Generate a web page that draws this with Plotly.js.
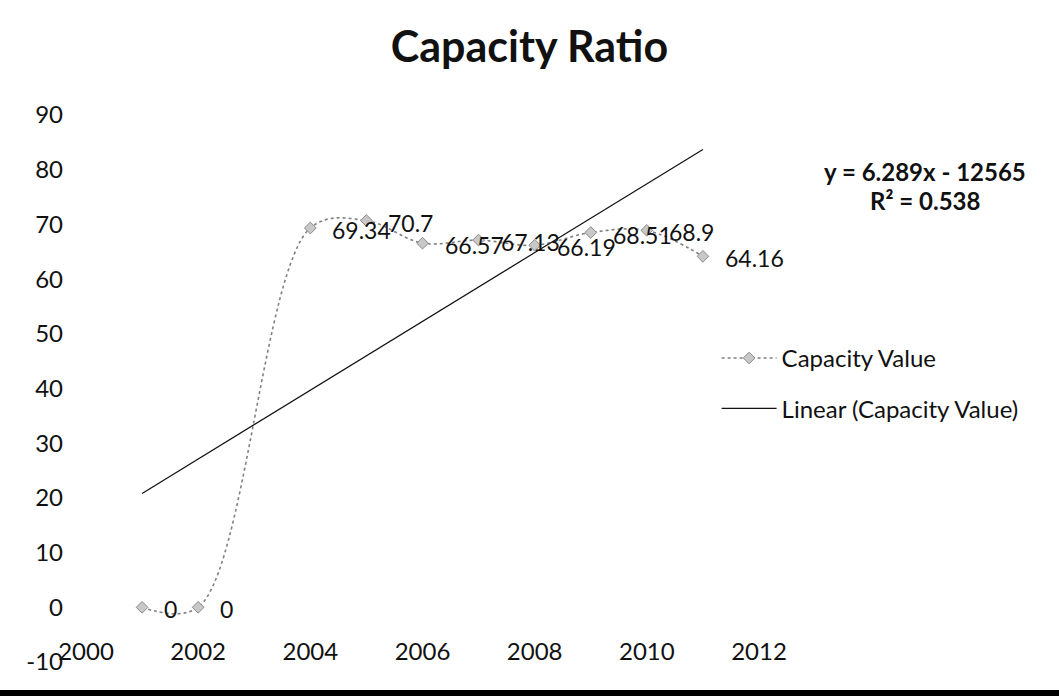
<!DOCTYPE html>
<html>
<head>
<meta charset="utf-8">
<script src="https://cdn.plot.ly/plotly-3.0.1.min.js"></script>
<style>
  html, body { margin: 0; padding: 0; background: #fff; }
  #chart { width: 1059px; height: 690px; }
  #base { width: 1059px; height: 6px; background: #000; }
</style>
</head>
<body>
<div id="chart"></div>
<div id="base"></div>
<script>
// Capacity ratio by year (2003 has no reading)
const years = [2001, 2002, 2003, 2004, 2005, 2006, 2007, 2008, 2009, 2010, 2011];
const capacityValue = [0, 0, null, 69.34, 70.7, 66.57, 67.13, 66.19, 68.51, 68.9, 64.16];
const yTickValues = [-10, 0, 10, 20, 30, 40, 50, 60, 70, 80, 90];
const yTickLabels = ['-10', '0', '10', '20', '30', '40', '50', '60', '70', '80', '90'];
const seriesName = 'Capacity Value';
const trendName = 'Linear (Capacity Value)';
const trendEquation = 'y = 6.289x - 12565';
const trendR2 = 'R² = 0.538';

// Least-squares fit over the years that have a value
const pts = years.map((x, i) => [x, capacityValue[i]]).filter(p => p[1] !== null);
const n = pts.length;
const mx = pts.reduce((s, p) => s + p[0], 0) / n;
const my = pts.reduce((s, p) => s + p[1], 0) / n;
const sxy = pts.reduce((s, p) => s + (p[0] - mx) * (p[1] - my), 0);
const sxx = pts.reduce((s, p) => s + (p[0] - mx) ** 2, 0);
const slope = sxy / sxx;
const intercept = my - slope * mx;
const xMin = Math.min(...pts.map(p => p[0]));
const xMax = Math.max(...pts.map(p => p[0]));
const trendX = [xMin, xMax];
const trendY = trendX.map(x => slope * x + intercept);

const FONT = 'Lato, "Open Sans", sans-serif';

const series = {
  x: years, y: capacityValue, name: seriesName,
  type: 'scatter', mode: 'lines+markers',
  connectgaps: true,
  line: { shape: 'spline', smoothing: 1, color: '#808080', width: 1.6, dash: 'dot' },
  marker: { symbol: 'diamond', size: 9, color: '#c8c8c8', line: { color: '#8a8a8a', width: 1 } },
  legend: 'legend', hoverinfo: 'x+y'
};

const trend = {
  x: trendX, y: trendY, name: trendName,
  type: 'scatter', mode: 'lines',
  line: { color: '#111', width: 1.2 },
  legend: 'legend2', hoverinfo: 'skip'
};

// Value labels to the right of each point
const labels = years.map((x, i) => capacityValue[i] === null ? null : ({
  x: x, y: capacityValue[i], xref: 'x', yref: 'y',
  text: String(capacityValue[i]), showarrow: false,
  xanchor: 'left', yanchor: 'middle', xshift: 20, yshift: -2,
  font: { family: FONT, size: 23, color: '#111' }
})).filter(a => a);

const eq = [
  { text: trendEquation, x: 1.2467, y: 0.896 },
  { text: trendR2, x: 1.2467, y: 0.843 }
].map(a => Object.assign(a, {
  xref: 'paper', yref: 'paper', showarrow: false,
  xanchor: 'center', yanchor: 'middle',
  font: { family: FONT, size: 24, color: '#111', weight: 'bold' }
}));

const layout = {
  width: 1059, height: 690,
  margin: { l: 86, r: 300, t: 115, b: 28 },
  paper_bgcolor: '#fff', plot_bgcolor: '#fff',
  title: {
    text: 'Capacity Ratio',
    font: { family: FONT, size: 43, color: '#111', weight: 'bold' },
    x: 0.5, xref: 'container', xanchor: 'center',
    y: 1 - 47 / 690, yref: 'container', yanchor: 'middle'
  },
  xaxis: {
    range: [2000, 2012], tick0: 2000, dtick: 2,
    showgrid: false, zeroline: false, showline: false,
    ticks: '', ticklabelstandoff: -27,
    tickfont: { family: FONT, size: 24, color: '#111' }
  },
  yaxis: {
    range: [-10, 90], tickmode: 'array',
    tickvals: yTickValues, ticktext: yTickLabels,
    showgrid: false, zeroline: false, showline: false,
    ticks: '', ticklabelstandoff: 22,
    tickfont: { family: FONT, size: 24, color: '#111' }
  },
  showlegend: true,
  legend: {
    x: 0.937, y: 0.555, xanchor: 'left', yanchor: 'middle',
    bgcolor: 'rgba(0,0,0,0)', itemwidth: 55,
    font: { family: FONT, size: 24, color: '#111' }
  },
  legend2: {
    x: 0.937, y: 0.463, xanchor: 'left', yanchor: 'middle',
    bgcolor: 'rgba(0,0,0,0)', itemwidth: 55,
    font: { family: FONT, size: 24, color: '#111' }
  },
  annotations: labels.concat(eq)
};

Plotly.newPlot('chart', [series, trend], layout, { displayModeBar: false, staticPlot: true });
</script>
</body>
</html>
